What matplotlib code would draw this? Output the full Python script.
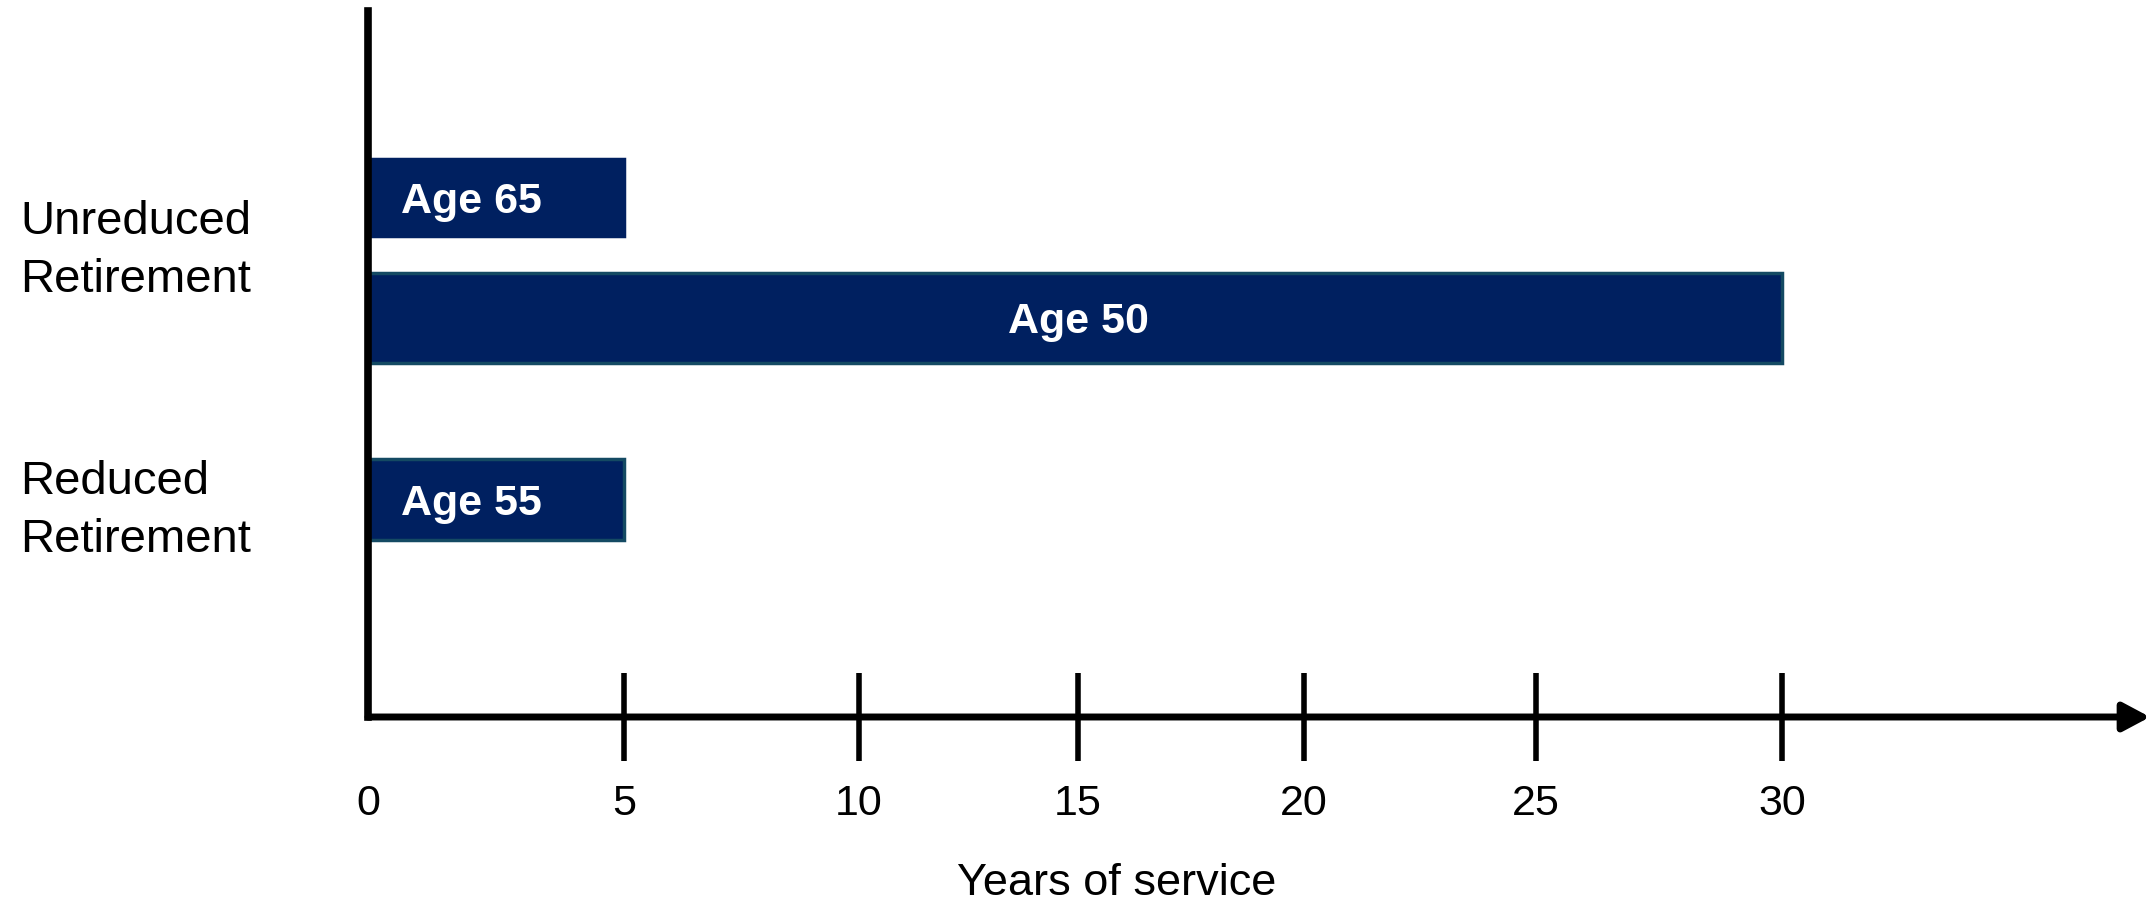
import numpy as np
import matplotlib
matplotlib.use('Agg')
import matplotlib.pyplot as plt

# Retirement eligibility: years of service needed at each age
bar_labels  = ['Age 65', 'Age 50', 'Age 55']
years       = [5, 30, 5]
group_names = ['Unreduced\nRetirement', 'Reduced\nRetirement']
x_ticks     = [0, 5, 10, 15, 20, 25, 30]
x_title     = 'Years of service'

# layout (axes units, 1 unit = 100 px)
bar_y      = [5.195, 3.99, 2.175]
bar_h      = [0.77, 0.90, 0.81]
group_y    = [4.78, 2.18]

fill  = '#002060'
edges = ['#002060', '#144a63', '#144a63']

# the drawn axis in the original is not evenly spaced:
# pixel offset of each tick from the vertical axis
tick_px = [0, 256, 491, 710, 936, 1168, 1414]
slope_lo = tick_px[1] / 5.0
slope_hi = (tick_px[-1] - tick_px[-2]) / 5.0

def forward(x):
    x = np.asarray(x, dtype=float)
    y = np.interp(x, x_ticks, tick_px)
    y = np.where(x > x_ticks[-1], tick_px[-1] + (x - x_ticks[-1]) * slope_hi, y)
    y = np.where(x < 0, x * slope_lo, y)
    return y

def inverse(y):
    y = np.asarray(y, dtype=float)
    x = np.interp(y, tick_px, x_ticks)
    x = np.where(y > tick_px[-1], x_ticks[-1] + (y - tick_px[-1]) / slope_hi, x)
    x = np.where(y < 0, y / slope_lo, x)
    return x

plt.rcParams['font.family'] = ['Liberation Sans', 'DejaVu Sans']

W, H = 2154, 907
fig = plt.figure(figsize=(W / 100, H / 100), dpi=100)
ax = fig.add_axes([368 / W, 190 / H, 1782 / W, 706 / H])
ax.set_xscale('function', functions=(forward, inverse))
ax.set_xlim(0, 30 + (2150 - 1782) / slope_hi)
ax.set_ylim(0, 7.06)

ax.barh(bar_y, years, height=bar_h, color=fill, edgecolor=edges, linewidth=2.5)

for lab, v, y in zip(bar_labels, years, bar_y):
    if v < 10:
        ax.annotate(lab, (0, y), xytext=(24, 0), textcoords='offset points',
                    ha='left', va='center_baseline', color='white',
                    fontsize=31, fontweight='bold')
    else:
        ax.text(v / 2, y, lab, ha='center', va='center_baseline', color='white',
                fontsize=31, fontweight='bold')

# axes lines
for s in ['top', 'right', 'bottom']:
    ax.spines[s].set_visible(False)
ax.spines['left'].set_linewidth(5.5)
ax.spines['left'].set_capstyle('projecting')
ax.annotate('', xy=(1, 0), xytext=(0, 0), xycoords='axes fraction',
            arrowprops=dict(arrowstyle='-|>,head_length=0.6,head_width=0.32',
                            mutation_scale=27, lw=5, color='black',
                            shrinkA=0, shrinkB=0),
            annotation_clip=False)

ax.set_xticks(x_ticks, [str(t) for t in x_ticks])
ax.xaxis.set_minor_locator(matplotlib.ticker.NullLocator())
ax.tick_params(axis='x', direction='inout', length=63, width=4, pad=17,
               labelsize=31)
ax.xaxis.get_major_ticks()[0].tick1line.set_visible(False)

ax.set_yticks(group_y, group_names)
ax.tick_params(axis='y', length=0, pad=250.6, labelsize=34)
for lab in ax.get_yticklabels():
    lab.set_horizontalalignment('left')
    lab.set_linespacing(1.4)

ax.set_xlabel(x_title, fontsize=32.5, va='center')
ax.xaxis.set_label_coords(0.4203, -0.236)

fig.savefig('out.png', dpi=100)
